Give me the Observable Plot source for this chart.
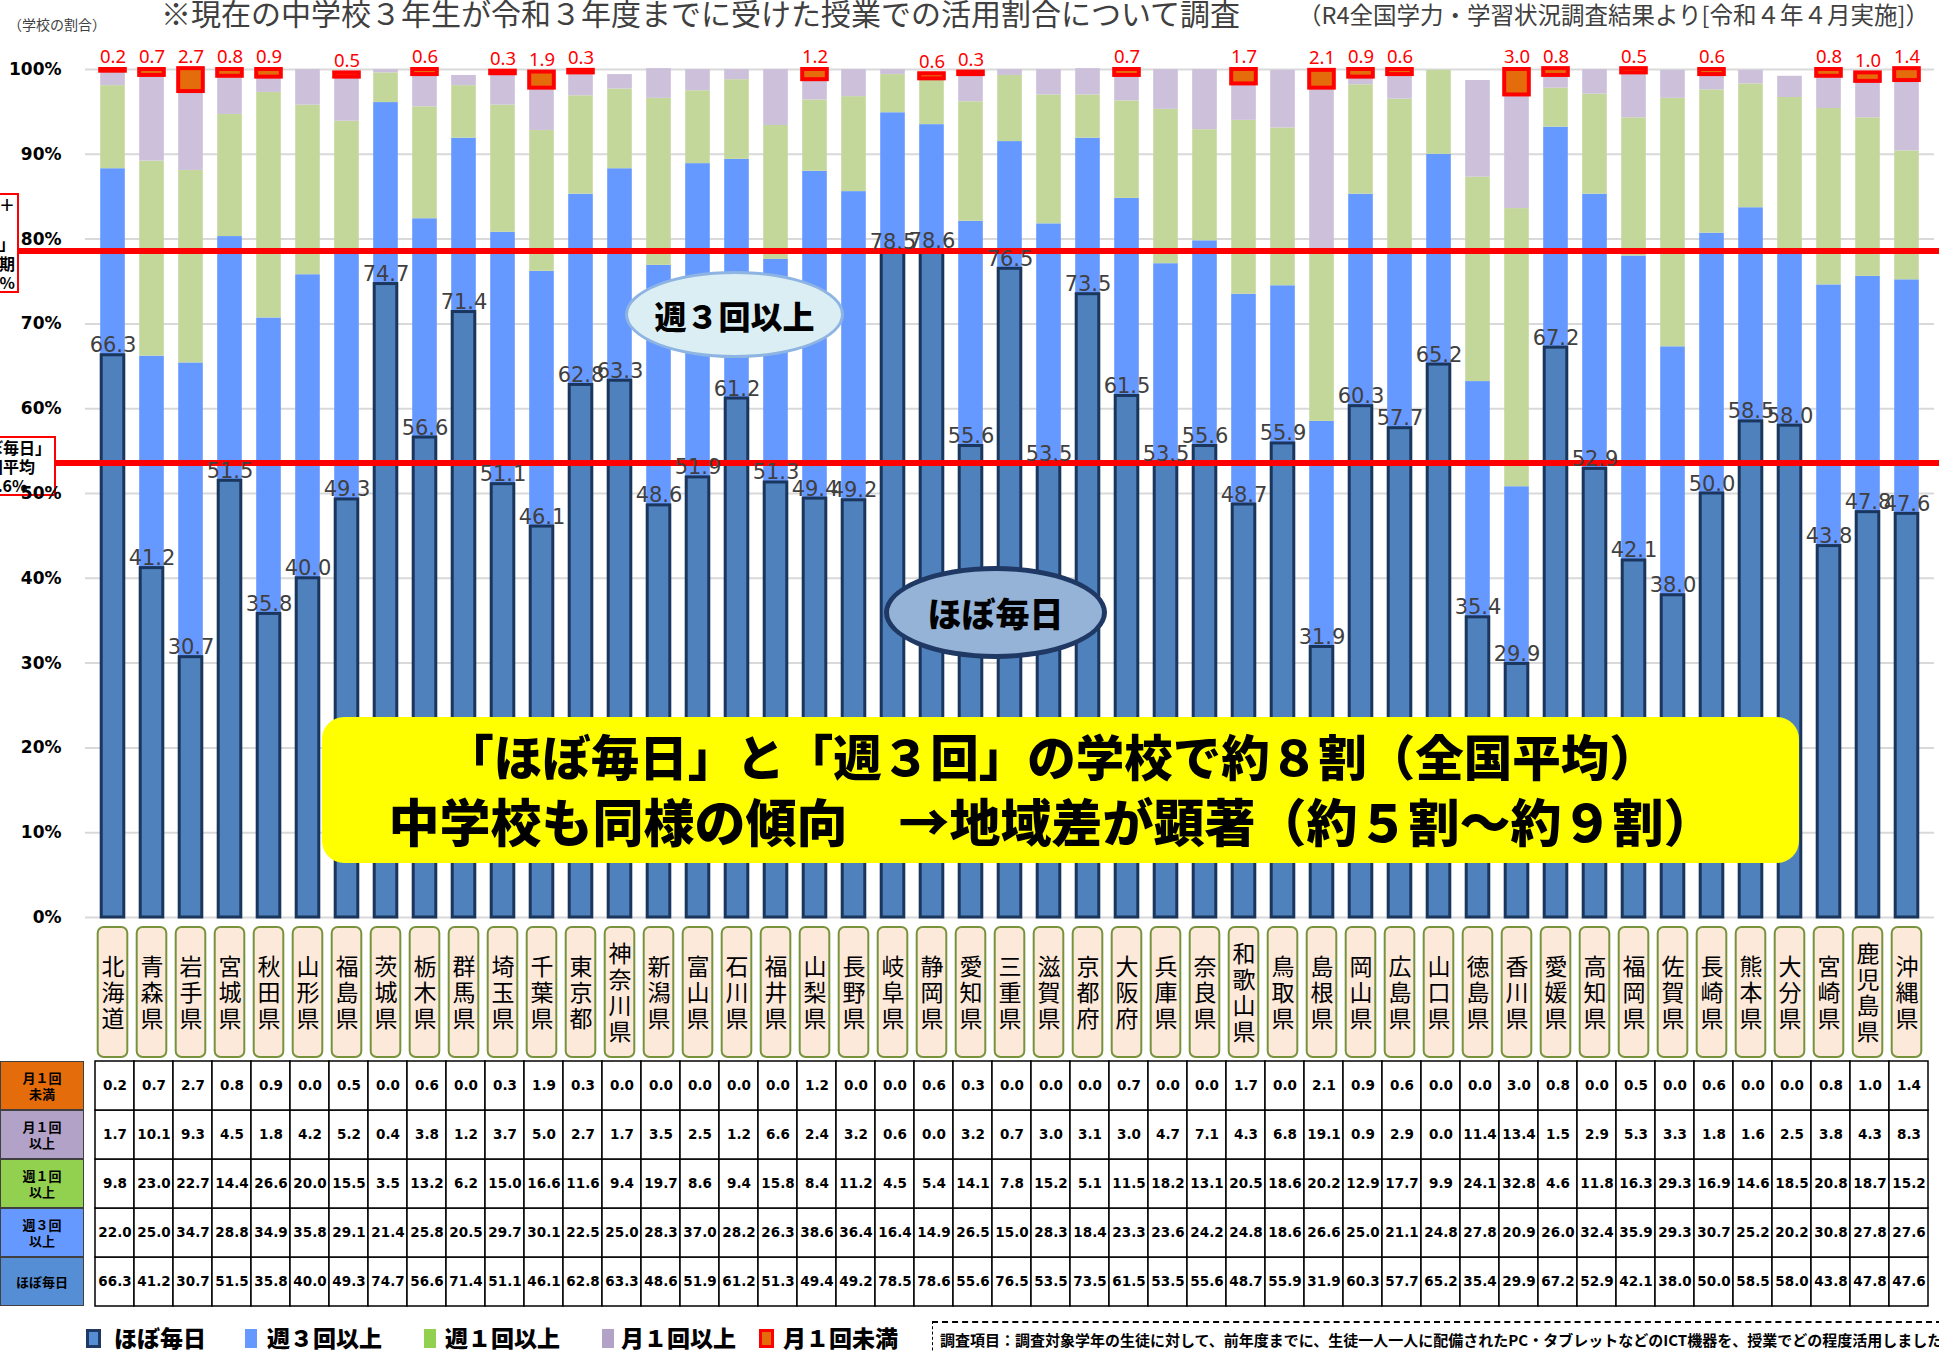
<!DOCTYPE html>
<html><head><meta charset="utf-8">
<script src="https://cdn.jsdelivr.net/npm/d3@7"></script>
<script src="https://cdn.jsdelivr.net/npm/@observablehq/plot@0.6"></script>
<style>
body{margin:0;background:#fff;width:1939px;height:1352px;overflow:hidden;position:relative;font-family:"Noto Sans CJK JP","Noto Sans",sans-serif;}
#main,#labels,#table{position:absolute;left:0;}
#main{top:0;z-index:1}
#labels{top:925px;z-index:1}
#table{top:1060px;z-index:1}
.ov{position:absolute;z-index:3;white-space:nowrap;}
</style></head><body>
<div id="main"></div>
<div id="labels"></div>
<div id="table"></div>
<script>
// ---------------- data ----------------
const prefs = ["北海道","青森県","岩手県","宮城県","秋田県","山形県","福島県","茨城県","栃木県","群馬県","埼玉県","千葉県","東京都","神奈川県","新潟県","富山県","石川県","福井県","山梨県","長野県","岐阜県","静岡県","愛知県","三重県","滋賀県","京都府","大阪府","兵庫県","奈良県","和歌山県","鳥取県","島根県","岡山県","広島県","山口県","徳島県","香川県","愛媛県","高知県","福岡県","佐賀県","長崎県","熊本県","大分県","宮崎県","鹿児島県","沖縄県"];
const categories = ["ほぼ毎日","週３回以上","週１回以上","月１回以上","月１回未満"];
const daily = [66.3,41.2,30.7,51.5,35.8,40.0,49.3,74.7,56.6,71.4,51.1,46.1,62.8,63.3,48.6,
  51.9,61.2,51.3,49.4,49.2,78.5,78.6,55.6,76.5,53.5,73.5,61.5,53.5,55.6,48.7,55.9,31.9,
  60.3,57.7,65.2,35.4,29.9,67.2,52.9,42.1,38.0,50.0,58.5,58.0,43.8,47.8,47.6];
const weekly3 = [22.0,25.0,34.7,28.8,34.9,35.8,29.1,21.4,25.8,20.5,29.7,30.1,22.5,25.0,28.3,
  37.0,28.2,26.3,38.6,36.4,16.4,14.9,26.5,15.0,28.3,18.4,23.3,23.6,24.2,24.8,18.6,26.6,
  25.0,21.1,24.8,27.8,20.9,26.0,32.4,35.9,29.3,30.7,25.2,20.2,30.8,27.8,27.6];
const weekly1 = [9.8,23.0,22.7,14.4,26.6,20.0,15.5,3.5,13.2,6.2,15.0,16.6,11.6,9.4,19.7,
  8.6,9.4,15.8,8.4,11.2,4.5,5.4,14.1,7.8,15.2,5.1,11.5,18.2,13.1,20.5,18.6,20.2,
  12.9,17.7,9.9,24.1,32.8,4.6,11.8,16.3,29.3,16.9,14.6,18.5,20.8,18.7,15.2];
const monthly = [1.7,10.1,9.3,4.5,1.8,4.2,5.2,0.4,3.8,1.2,3.7,5.0,2.7,1.7,3.5,
  2.5,1.2,6.6,2.4,3.2,0.6,0.0,3.2,0.7,3.0,3.1,3.0,4.7,7.1,4.3,6.8,19.1,
  0.9,2.9,0.0,11.4,13.4,1.5,2.9,5.3,3.3,1.8,1.6,2.5,3.8,4.3,8.3];
const lessMonthly = [0.2,0.7,2.7,0.8,0.9,0.0,0.5,0.0,0.6,0.0,0.3,1.9,0.3,0.0,0.0,
  0.0,0.0,0.0,1.2,0.0,0.0,0.6,0.3,0.0,0.0,0.0,0.7,0.0,0.0,1.7,0.0,2.1,
  0.9,0.6,0.0,0.0,3.0,0.8,0.0,0.5,0.0,0.6,0.0,0.0,0.8,1.0,1.4];
const yTicks = [0,10,20,30,40,50,60,70,80,90,100];
const avgDaily = 53.6;          // 「ほぼ毎日」全国平均
const avgDailyWeekly3 = 78.6;   // 「ほぼ毎日」+「週３回以上」全国平均

// ---------------- build stacked table ----------------
const series = [daily, weekly3, weekly1, monthly, lessMonthly];
const rows = [];
prefs.forEach((p, i) => {
  let base = 0;
  series.forEach((s, k) => {
    rows.push({pref: p, cat: categories[k], k, v: s[i], y1: base, y2: base + s[i]});
    base += s[i];
  });
});
const segColors = ["#4F81BD", "#6699FF", "#C4D79B", "#CCC0DA", "#E46C0A"];
const inset = 7.2;

const main = Plot.plot({
  width: 1939, height: 920,
  marginTop: 69, marginBottom: 3, marginLeft: 85, marginRight: 5,
  x: {domain: prefs, type: "band", padding: 0, axis: null},
  y: {domain: [0, 100], axis: null},
  style: {background: "transparent", fontFamily: "'DejaVu Sans', sans-serif", overflow: "visible"},
  marks: [
    Plot.gridY(yTicks, {stroke: "#D9D9D9", strokeWidth: 2, strokeOpacity: 1}),
    Plot.axisY(yTicks, {tickSize: 0, tickPadding: 24, tickFormat: d => d + "%", fontSize: 17, fontWeight: "bold", fill: "#000", label: null}),
    ...[1, 2, 3].map(k => Plot.rectY(rows.filter(d => d.k === k), {
      x: "pref", y1: "y1", y2: "y2", fill: segColors[k], insetLeft: inset, insetRight: inset
    })),
    Plot.rectY(rows.filter(d => d.k === 0), {
      x: "pref", y1: "y1", y2: "y2", fill: segColors[0], stroke: "#1B365D", strokeWidth: 3, insetLeft: 8.2, insetRight: 8.2
    }),
    Plot.rectY(rows.filter(d => d.k === 4 && d.v > 0), {
      x: "pref", y1: "y1", y2: "y2", fill: segColors[4], stroke: "#FF0000", strokeWidth: 4, insetLeft: inset, insetRight: inset
    }),
    Plot.ruleY([avgDailyWeekly3], {stroke: "#FF0000", strokeWidth: 6, insetLeft: -66, insetRight: -5}),
    Plot.ruleY([avgDaily], {stroke: "#FF0000", strokeWidth: 6, insetLeft: -29, insetRight: -5}),
    Plot.text(rows.filter(d => d.k === 0), {
      x: "pref", y: "y2", text: d => d.v.toFixed(1), lineAnchor: "bottom", dy: -3, fontSize: 21, fill: "#404040"
    }),
    Plot.text(rows.filter(d => d.k === 4 && d.v > 0), {
      x: "pref", y: "y2", text: d => d.v.toFixed(1), dy: -12, fontSize: 18.5, fill: "#FF0000", fontFamily: "'Noto Sans', sans-serif"
    })
  ]
});
document.getElementById("main").append(main);

const labels = Plot.plot({
  width: 1939, height: 135,
  marginTop: 2, marginBottom: 3, marginLeft: 85, marginRight: 5,
  x: {domain: prefs, type: "band", padding: 0, axis: null},
  style: {background: "transparent", overflow: "visible"},
  marks: [
    Plot.cell(prefs, {x: d => d, fill: "#FDE9D9", stroke: "#77933C", strokeWidth: 2, rx: 6, insetLeft: 4.7, insetRight: 4.7}),
    Plot.text(prefs, {x: d => d, text: d => [...d].join("\n"), frameAnchor: "middle", fontSize: 23, lineHeight: 1.13, fill: "#000", fontFamily: "'Noto Sans CJK JP', sans-serif"})
  ]
});
document.getElementById("labels").append(labels);

const table = Plot.plot({
  width: 1939, height: 248,
  marginTop: 1, marginBottom: 2, marginLeft: 83, marginRight: 0,
  x: {domain: prefs, type: "band", padding: 0, axis: null},
  y: {domain: [...categories].reverse(), type: "band", padding: 0, axis: null},
  style: {background: "transparent", fontFamily: "'DejaVu Sans', sans-serif", overflow: "visible"},
  marks: [
    Plot.cell(rows, {x: "pref", y: "cat", fill: "#fff", stroke: "#000", strokeWidth: 1.5}),
    Plot.text(rows, {x: "pref", y: "cat", text: d => d.v.toFixed(1), fontSize: 13.5, fontWeight: "bold", fill: "#000"})
  ]
});
document.getElementById("table").append(table);

// ---------------- HTML overlays ----------------
function ov(html, css) {
  const d = document.createElement("div");
  d.className = "ov";
  d.innerHTML = html;
  Object.assign(d.style, css);
  document.body.append(d);
  return d;
}
function textAt(html, left, cy, size, css = {}) {
  const lh = Math.round(size * 1.4);
  return ov(html, Object.assign({left: left + "px", top: (cy - lh / 2 - 1.5) + "px", fontSize: size + "px", lineHeight: lh + "px"}, css));
}

textAt("※現在の中学校３年生が令和３年度までに受けた授業での活用割合について調査", 161, 13, 30, {color: "#404040"});
textAt("（R4全国学力・学習状況調査結果より[令和４年４月実施]）", 1298, 16, 23.5, {color: "#404040"});
textAt("（学校の割合）", 8, 25, 14, {color: "#404040"});

// left boxes (partly off page)
ov("「ほぼ毎日」＋<br>&nbsp;<br>「週３回以上」<br>全国平均期<br>78.6%", {
  left: "-112px", top: "193px", width: "131px", height: "100px", boxSizing: "border-box",
  border: "2px solid #FF0000", background: "#fff", fontSize: "16px", lineHeight: "19.5px",
  fontWeight: "bold", textAlign: "right", paddingRight: "2px", zIndex: 0
});
ov("「ほぼ毎日」<br>全国平均<br>" + avgDaily.toFixed(1) + "%", {
  left: "-50px", top: "436px", width: "106px", height: "60px", boxSizing: "border-box",
  border: "2px solid #FF0000", background: "#fff", fontSize: "16px", lineHeight: "19px",
  fontWeight: "bold", textAlign: "center", zIndex: 0
});

// ellipses
ov("週３回以上", {
  left: "625px", top: "271px", width: "219px", height: "87px", boxSizing: "border-box",
  borderRadius: "50%", background: "#DAEEF3", border: "3px solid #8DB4E2",
  display: "flex", alignItems: "center", justifyContent: "center",
  fontSize: "32px", fontWeight: "900", color: "#000"
});
ov("ほぼ毎日", {
  left: "884px", top: "566px", width: "223px", height: "93px", boxSizing: "border-box",
  borderRadius: "50%", background: "#95B3D7", border: "5px solid #1F3864",
  display: "flex", alignItems: "center", justifyContent: "center",
  fontSize: "34px", fontWeight: "900", color: "#000"
});

// yellow box
ov("<div style='font-size:48.5px'>「ほぼ毎日」と「週３回」の学校で約８割（全国平均）</div><div style='font-size:51px'>中学校も同様の傾向　→地域差が顕著（約５割～約９割）</div>", {
  left: "322px", top: "717px", width: "1477px", height: "146px", boxSizing: "border-box",
  borderRadius: "22px", background: "#FFFF00", textAlign: "center",
  fontWeight: "900", lineHeight: "65px", paddingTop: "6px", paddingRight: "18px", color: "#000"
});

// table row headers
const headerColors = ["#E46C0A", "#B3A2C7", "#92D050", "#6699FF", "#558ED5"];
const headerText = ["月１回<br>未満", "月１回<br>以上", "週１回<br>以上", "週３回<br>以上", "ほぼ毎日"];
headerText.forEach((t, i) => {
  ov(t, {
    left: "0px", top: (1061 + i * 49) + "px", width: "84px", height: "49px", boxSizing: "border-box",
    background: headerColors[i], border: "1.5px solid #404040",
    display: "flex", alignItems: "center", justifyContent: "center", textAlign: "center",
    fontSize: "13px", lineHeight: "16px", fontWeight: "bold", color: "#000"
  });
});

// legend
const legendItems = [
  {label: categories[0], sx: 86, sw: 15, fill: "#558ED5", border: "3px solid #1F3864", tx: 114},
  {label: categories[1], sx: 245, sw: 12, fill: "#6699FF", border: "none", tx: 267},
  {label: categories[2], sx: 424, sw: 12, fill: "#92D050", border: "none", tx: 445},
  {label: categories[3], sx: 602, sw: 12, fill: "#B3A2C7", border: "none", tx: 621},
  {label: categories[4], sx: 759, sw: 15, fill: "#E46C0A", border: "3px solid #FF0000", tx: 783}
];
legendItems.forEach(it => {
  ov("", {left: it.sx + "px", top: "1329px", width: it.sw + "px", height: "19px", boxSizing: "border-box", background: it.fill, border: it.border});
  textAt(it.label, it.tx, 1338, 23, {fontWeight: "900", color: "#000"});
});
ov("", {left: "932px", top: "1321px", width: "1010px", height: "40px", boxSizing: "border-box",
  borderTop: "2px dashed #000", borderLeft: "1.5px dashed #000"});
textAt("調査項目：調査対象学年の生徒に対して、前年度までに、生徒一人一人に配備されたPC・タブレットなどのICT機器を、授業でどの程度活用しましたか", 940, 1341, 15, {fontWeight: "bold", color: "#000"});
</script>
</body></html>
